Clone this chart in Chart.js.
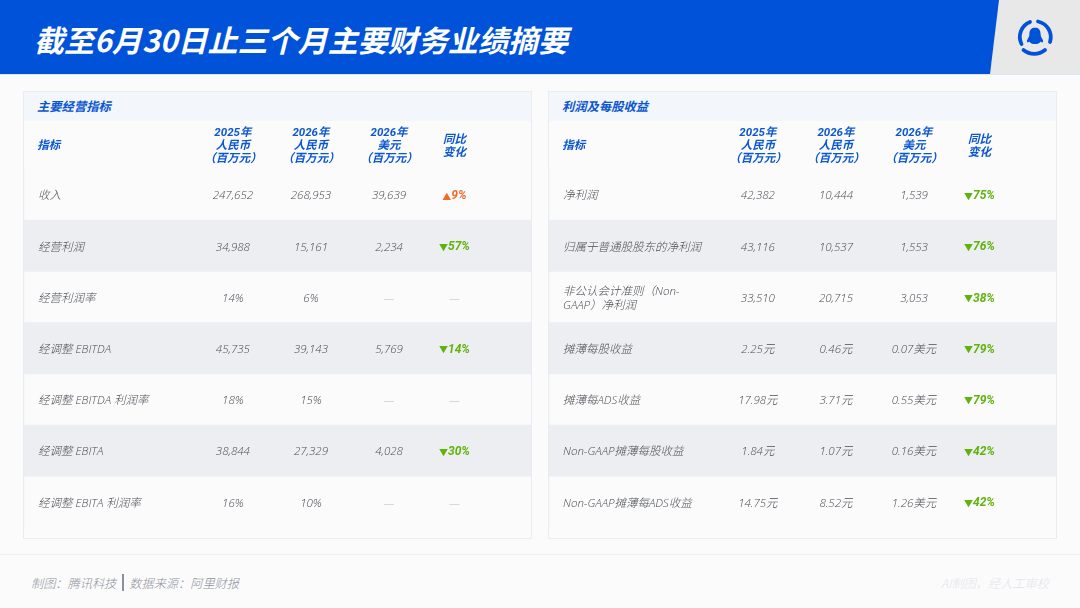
<!DOCTYPE html>
<html lang="zh"><head><meta charset="utf-8">
<style>
html,body{margin:0;padding:0;width:1080px;height:608px;overflow:hidden;background:#fbfbfc;}
*{box-sizing:border-box;}
body{font-family:"Open Sans","Noto Sans CJK SC",sans-serif;position:relative;}
#bar{position:absolute;left:0;top:0;width:1080px;height:74px;background:#e8e8e8;}
#blue{position:absolute;left:0;top:0;width:1000px;height:74px;background:#0052d9;clip-path:polygon(0 0,999px 0,990px 74px,0 74px);}
#barline{position:absolute;left:0;top:74px;width:1080px;height:1px;background:#dbe7f8;}
#title{position:absolute;left:34px;top:17px;color:#fff;font:italic 700 30px/44px "Noto Sans CJK SC",sans-serif;letter-spacing:.05px;white-space:nowrap;}
#logo{position:absolute;left:1013px;top:15px;width:44px;height:44px;}
.panel{position:absolute;top:91px;height:448px;border:1px solid #e9ecf1;background:#fbfbfc;}
.band{position:absolute;left:0;top:0;right:0;height:29px;background:#f3f6fb;color:#0b57d0;font:italic 700 12.3px/29px "Noto Sans CJK SC",sans-serif;padding-left:13px;}
.panel canvas{position:absolute;left:0;top:-1px;}
#fline{position:absolute;left:0;top:554px;width:1080px;height:1px;background:#eef0f3;}
#src{position:absolute;left:31px;top:573px;color:#8b9099;font:italic 300 12.2px/20px "Noto Sans CJK SC",sans-serif;white-space:nowrap;}
#src i{display:inline-block;width:2px;height:17px;background:#8b9099;vertical-align:-3px;margin:0 5px 0 6px;}
#ai{position:absolute;right:31px;top:573px;color:#e2e4e8;font:italic 300 12.2px/20px "Noto Sans CJK SC",sans-serif;white-space:nowrap;}
</style></head>
<body>
<div id="bar"></div><div id="blue"></div><div id="barline"></div>
<div id="title">截至6月30日止三个月主要财务业绩摘要</div>
<svg id="logo" viewBox="0 0 44 44">
  <g fill="none" stroke="#0052d9" stroke-width="3.8" stroke-linecap="round">
    <path d="M17 7 A16 16 0 0 0 8.500 29"/>
    <path d="M25 6.500 A16 16 0 0 1 37 27"/>
    <path d="M10.500 35 A17 17 0 0 0 32 35"/>
  </g>
  <path d="M22 12.500c-4 0-5.600 3.200-5.600 6.500 0 1.800-.5 3-1.500 4.500-1 1.600-1.300 3.300-.6 3.800.5.300 1.300-.3 1.800-.9 1.100 1.700 3.300 2.600 5.900 2.600s4.800-.9 5.900-2.600c.5.600 1.300 1.200 1.800.9.700-.5.400-2.200-.6-3.800-1-1.500-1.500-2.700-1.500-4.500 0-3.300-1.600-6.500-5.600-6.500z" fill="#0052d9"/>
</svg>
<div class="panel" style="left:23px;width:509px"><div class="band">主要经营指标</div><canvas id="c1" width="507" height="448"></canvas></div>
<div class="panel" style="left:548px;width:509px"><div class="band">利润及每股收益</div><canvas id="c2" width="507" height="448"></canvas></div>
<div id="fline"></div>
<div id="src">制图：腾讯科技<i></i>数据来源：阿里财报</div>
<div id="ai">AI制图，经人工审校</div>
<script src="https://cdn.jsdelivr.net/npm/chart.js@4"></script>
<script>
// ---- data ----
const headers = [['指标'],['2025年','人民币','（百万元）'],['2026年','人民币','（百万元）'],['2026年','美元','（百万元）'],['同比','变化']];

const opRows = ['收入','经营利润','经营利润率','经调整 EBITDA','经调整 EBITDA 利润率','经调整 EBITA','经调整 EBITA 利润率'];
const opRmb2025 = ['247,652','34,988','14%','45,735','18%','38,844','16%'];
const opRmb2026 = ['268,953','15,161','6%','39,143','15%','27,329','10%'];
const opUsd2026 = ['39,639','2,234','—','5,769','—','4,028','—'];
const opChange  = ['▲9%','▼57%','—','▼14%','—','▼30%','—'];

const prRows = ['净利润','归属于普通股股东的净利润',['非公认会计准则（Non-','GAAP）净利润'],'摊薄每股收益','摊薄每ADS收益','Non-GAAP摊薄每股收益','Non-GAAP摊薄每ADS收益'];
const prRmb2025 = ['42,382','43,116','33,510','2.25元','17.98元','1.84元','14.75元'];
const prRmb2026 = ['10,444','10,537','20,715','0.46元','3.71元','1.07元','8.52元'];
const prUsd2026 = ['1,539','1,553','3,053','0.07美元','0.55美元','0.16美元','1.26美元'];
const prChange  = ['▼75%','▼76%','▼38%','▼79%','▼79%','▼42%','▼42%'];

const stripeRows = [0,100,0,100,0,100,0];

// ---- layout / style ----
const columnPercent = [4.9,41.2,56.6,72.0,84.9];
const TEXT_NUDGE = 1.6;
const BODY = '"Open Sans","Noto Sans CJK SC",sans-serif';
const HEAD = 'Roboto,"Noto Sans CJK SC",sans-serif';
const BLUE='#0b57d0', TEXT='#4a4d53', DASH='#b9bcc2', UP='#f06a2a', DOWN='#5fb30a', STRIPE='#eceef2';

const cellText = {
  id:'cellText',
  afterDatasetsDraw(chart){
    const c = chart.ctx;
    chart.data.datasets.forEach((ds,di)=>{
      if(!ds.cells) return;
      chart.getDatasetMeta(di).data.forEach((pt,i)=>{
        const t = ds.cells[i], y = pt.y + TEXT_NUDGE;
        const isDelta = ds.delta && t !== '—';
        c.save();
        c.textBaseline='middle';
        if(isDelta){
          const arrow=t[0], rest=t.slice(1);
          c.fillStyle = arrow==='▲'?UP:DOWN;
          c.font=`italic 700 12px ${HEAD}`;
          const w=c.measureText(rest).width;
          c.font=`700 9px "Noto Sans CJK SC"`;
          const a=c.measureText(arrow).width;
          const left=pt.x-(w+a)/2;
          c.textAlign='left';
          c.fillText(arrow,left,y);
          c.font=`italic 700 12px ${HEAD}`;
          c.fillText(rest,left+a,y);
        } else {
          c.textAlign='center';
          c.font=`italic 300 11.5px ${BODY}`;
          c.fillStyle = t==='—' ? DASH : TEXT;
          c.fillText(t, pt.x, y);
        }
        c.restore();
      });
    });
  }
};

function cellsDataset(values, col, delta){
  return {type:'scatter', cells:values, delta:!!delta, pointRadius:0, pointHoverRadius:0,
          data:values.map((_,i)=>({x:columnPercent[col], y:i}))};
}

function table(id, rows, cols){
  return new Chart(document.getElementById(id),{
    type:'bar',
    plugins:[cellText],
    data:{labels:rows, datasets:[
      {type:'bar', data:stripeRows, backgroundColor:STRIPE, barPercentage:1, categoryPercentage:1, borderWidth:0, indexAxis:'y'},
      cellsDataset(cols[0],1), cellsDataset(cols[1],2), cellsDataset(cols[2],3), cellsDataset(cols[3],4,true)
    ]},
    options:{
      indexAxis:'y', responsive:false, animation:false, devicePixelRatio:1,
      layout:{autoPadding:false,padding:{top:29,bottom:11.6,left:0,right:0}},
      plugins:{legend:{display:false},tooltip:{enabled:false}},
      events:[],
      scales:{
        x:{type:'linear',position:'top',min:0,max:100,
           grid:{display:false},border:{display:false},
           afterBuildTicks:s=>{s.ticks=columnPercent.map(v=>({value:v}));},
           afterFit:s=>{s.height=49;},
           ticks:{autoSkip:false,maxRotation:0,minRotation:0,crossAlign:'center',padding:1.5,color:BLUE,
             font:{family:HEAD,style:'italic',weight:700,size:11.5,lineHeight:1.14},
             callback:(v,i)=>headers[i]}},
        y:{type:'category',offset:true,
           afterFit:s=>{s.width=0;s.paddingTop=0;s.paddingBottom=0;},
           grid:{display:false},border:{display:false},
           ticks:{mirror:true,z:1,padding:14,labelOffset:TEXT_NUDGE,color:TEXT,autoSkip:false,
             font:{family:BODY,style:'italic',weight:300,size:11.5,lineHeight:1.28}}}
      }
    }
  });
}
table('c1',opRows,[opRmb2025,opRmb2026,opUsd2026,opChange]);
table('c2',prRows,[prRmb2025,prRmb2026,prUsd2026,prChange]);
</script>
</body></html>
